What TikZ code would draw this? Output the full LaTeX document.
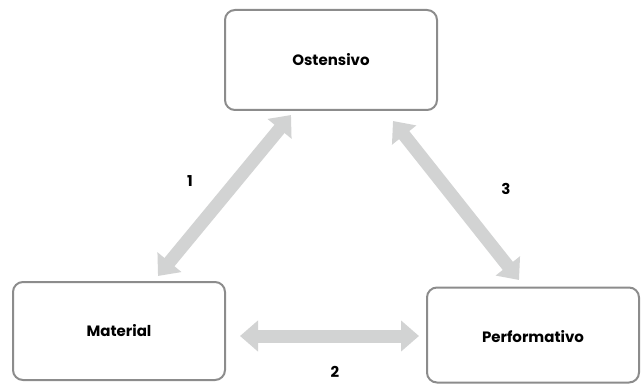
\documentclass[tikz,border=0pt]{standalone}
\usepackage{fontspec}
\setmainfont{Poppins}
\usetikzlibrary{arrows.meta}
\definecolor{boxline}{HTML}{8C8C8C}
\definecolor{arrowgray}{HTML}{D2D3D3}
\tikzset{
  box/.style={draw=boxline, line width=2pt, rounded corners=10pt, fill=white},
  lbl/.style={font=\fontsize{15}{17}\selectfont\bfseries, text=black},
  bigarrow/.style={draw=arrowgray, line width=13pt,
    {Triangle[width=30pt,length=18pt]}-{Triangle[width=30pt,length=18pt]}},
}
\begin{document}
\begin{tikzpicture}[x=1pt,y=-1pt]
\useasboundingbox (0,0) rectangle (643,385);
\node[box, minimum width=212pt, minimum height=100pt] (ost) at (331,60) {};
\node[box, minimum width=212pt, minimum height=98pt] (mat) at (119,331) {};
\node[box, minimum width=212pt, minimum height=95pt] (perf) at (533,335) {};
\node[lbl] (ostt) at (ost.center) {Ostensivo};
\node[lbl] (matt) at (mat.center) {Material};
\node[lbl] (perft) at ([yshift=-2pt]perf.center) {Performativo};
\coordinate (a1s) at (158,276);
\coordinate (a1e) at (291,115);
\coordinate (a2s) at (240,336);
\coordinate (a2e) at (419,336);
\coordinate (a3s) at (393,121);
\coordinate (a3e) at (519,280);
\draw[bigarrow] (a1s) -- (a1e);
\draw[bigarrow] (a2s) -- (a2e);
\draw[bigarrow] (a3s) -- (a3e);
\node[lbl] (n1) at (190,181) {1};
\node[lbl] (n2) at (335,372) {2};
\node[lbl] (n3) at (506,189) {3};
\end{tikzpicture}
\end{document}
